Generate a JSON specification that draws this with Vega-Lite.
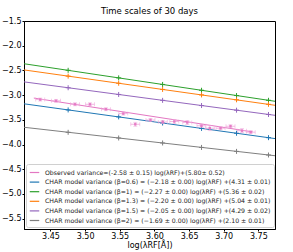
{
  "$schema": "https://vega.github.io/schema/vega-lite/v6.json",
  "width": 251,
  "height": 208,
  "autosize": {"type": "none"},
  "padding": {"left": 24, "top": 21, "right": 18, "bottom": 23},
  "title": {"text": "Time scales of 30 days", "fontSize": 8.5, "font": "DejaVu Sans", "fontWeight": "normal", "offset": 2, "color": "black"},
  "config": {
    "font": "DejaVu Sans",
    "view": {"stroke": "black", "strokeWidth": 1},
    "axis": {"grid": false, "domainColor": "black", "tickColor": "black", "labelColor": "black", "titleColor": "black", "labelFont": "DejaVu Sans", "titleFont": "DejaVu Sans", "labelFontSize": 8, "titleFontSize": 8, "titleFontWeight": "normal", "tickSize": 2, "labelPadding": 1}
  },
  "datasets": {
    "lines": [
      {"series": "Observed variance=(-2.58 ± 0.15) log(λRF)+(5.80± 0.52)", "x": 3.426, "y": -3.06},
      {"series": "Observed variance=(-2.58 ± 0.15) log(λRF)+(5.80± 0.52)", "x": 3.742, "y": -3.745},
      {"series": "CHAR model variance (β=0.6) = (−2.18 ± 0.00) log(λRF) +(4.31 ± 0.01)", "x": 3.4118, "y": -3.176},
      {"series": "CHAR model variance (β=0.6) = (−2.18 ± 0.00) log(λRF) +(4.31 ± 0.01)", "x": 3.774, "y": -3.88},
      {"series": "CHAR model variance (β=1) = (−2.27 ± 0.00) log(λRF) +(5.36 ± 0.02)", "x": 3.4118, "y": -2.365},
      {"series": "CHAR model variance (β=1) = (−2.27 ± 0.00) log(λRF) +(5.36 ± 0.02)", "x": 3.774, "y": -3.125},
      {"series": "CHAR model variance (β=1.3) = (−2.20 ± 0.00) log(λRF) +(5.04 ± 0.01)", "x": 3.4118, "y": -2.49},
      {"series": "CHAR model variance (β=1.3) = (−2.20 ± 0.00) log(λRF) +(5.04 ± 0.01)", "x": 3.774, "y": -3.206},
      {"series": "CHAR model variance (β=1.5) = (−2.05 ± 0.00) log(λRF) +(4.29 ± 0.02)", "x": 3.4118, "y": -2.732},
      {"series": "CHAR model variance (β=1.5) = (−2.05 ± 0.00) log(λRF) +(4.29 ± 0.02)", "x": 3.774, "y": -3.409},
      {"series": "CHAR model variance (β=2) = (−1.69 ± 0.00) log(λRF) +(2.10 ± 0.01)", "x": 3.4118, "y": -3.651},
      {"series": "CHAR model variance (β=2) = (−1.69 ± 0.00) log(λRF) +(2.10 ± 0.01)", "x": 3.774, "y": -4.227}
    ],
    "markers": [
      {"beta": "0.6", "x": 3.4755, "y": -3.300}, {"beta": "0.6", "x": 3.5484, "y": -3.441}, {"beta": "0.6", "x": 3.6118, "y": -3.565}, {"beta": "0.6", "x": 3.668, "y": -3.674}, {"beta": "0.6", "x": 3.7185, "y": -3.772}, {"beta": "0.6", "x": 3.7646, "y": -3.861},
      {"beta": "1", "x": 3.4755, "y": -2.498}, {"beta": "1", "x": 3.5484, "y": -2.651}, {"beta": "1", "x": 3.6118, "y": -2.784}, {"beta": "1", "x": 3.668, "y": -2.902}, {"beta": "1", "x": 3.7185, "y": -3.009}, {"beta": "1", "x": 3.7646, "y": -3.105},
      {"beta": "1.3", "x": 3.4755, "y": -2.616}, {"beta": "1.3", "x": 3.5484, "y": -2.760}, {"beta": "1.3", "x": 3.6118, "y": -2.885}, {"beta": "1.3", "x": 3.668, "y": -2.996}, {"beta": "1.3", "x": 3.7185, "y": -3.095}, {"beta": "1.3", "x": 3.7646, "y": -3.186},
      {"beta": "1.5", "x": 3.4755, "y": -2.851}, {"beta": "1.5", "x": 3.5484, "y": -2.987}, {"beta": "1.5", "x": 3.6118, "y": -3.106}, {"beta": "1.5", "x": 3.668, "y": -3.211}, {"beta": "1.5", "x": 3.7185, "y": -3.305}, {"beta": "1.5", "x": 3.7646, "y": -3.392},
      {"beta": "2", "x": 3.4755, "y": -3.753}, {"beta": "2", "x": 3.5484, "y": -3.868}, {"beta": "2", "x": 3.6118, "y": -3.969}, {"beta": "2", "x": 3.668, "y": -4.059}, {"beta": "2", "x": 3.7185, "y": -4.139}, {"beta": "2", "x": 3.7646, "y": -4.212}
    ],
    "obs": [
      {"x": 3.4352, "y": -3.09, "xlo": 3.4287, "xhi": 3.4417, "ylo": -3.12, "yhi": -3.06},
      {"x": 3.4580, "y": -3.116, "xlo": 3.4515, "xhi": 3.4645, "ylo": -3.146, "yhi": -3.086},
      {"x": 3.4854, "y": -3.186, "xlo": 3.4789, "xhi": 3.4919, "ylo": -3.216, "yhi": -3.156},
      {"x": 3.5070, "y": -3.186, "xlo": 3.5005, "xhi": 3.5135, "ylo": -3.216, "yhi": -3.156},
      {"x": 3.5300, "y": -3.286, "xlo": 3.5235, "xhi": 3.5365, "ylo": -3.316, "yhi": -3.256},
      {"x": 3.5551, "y": -3.374, "xlo": 3.5486, "xhi": 3.5616, "ylo": -3.404, "yhi": -3.344},
      {"x": 3.5724, "y": -3.59, "xlo": 3.5659, "xhi": 3.5789, "ylo": -3.63, "yhi": -3.55},
      {"x": 3.5943, "y": -3.504, "xlo": 3.5878, "xhi": 3.6008, "ylo": -3.534, "yhi": -3.474},
      {"x": 3.6120, "y": -3.544, "xlo": 3.6055, "xhi": 3.6185, "ylo": -3.574, "yhi": -3.514},
      {"x": 3.6287, "y": -3.534, "xlo": 3.6222, "xhi": 3.6352, "ylo": -3.574, "yhi": -3.494},
      {"x": 3.6474, "y": -3.554, "xlo": 3.6409, "xhi": 3.6539, "ylo": -3.594, "yhi": -3.514},
      {"x": 3.6679, "y": -3.62, "xlo": 3.6614, "xhi": 3.6744, "ylo": -3.65, "yhi": -3.59},
      {"x": 3.6799, "y": -3.67, "xlo": 3.6734, "xhi": 3.6864, "ylo": -3.72, "yhi": -3.62},
      {"x": 3.6954, "y": -3.67, "xlo": 3.6889, "xhi": 3.7019, "ylo": -3.70, "yhi": -3.64},
      {"x": 3.7098, "y": -3.63, "xlo": 3.7033, "xhi": 3.7163, "ylo": -3.66, "yhi": -3.60},
      {"x": 3.7264, "y": -3.72, "xlo": 3.7199, "xhi": 3.7329, "ylo": -3.76, "yhi": -3.68},
      {"x": 3.7389, "y": -3.75, "xlo": 3.7324, "xhi": 3.7454, "ylo": -3.78, "yhi": -3.72}
    ]
  },
  "encoding": {
    "x": {"type": "quantitative", "scale": {"domain": [3.4118, 3.774], "nice": false, "zero": false}, "axis": {"values": [3.45, 3.5, 3.55, 3.6, 3.65, 3.7, 3.75], "format": ".2f", "title": "log(λRF[Å])", "titlePadding": 1}},
    "y": {"type": "quantitative", "scale": {"domain": [-5.71, -1.5], "nice": false, "zero": false}, "axis": {"values": [-5.5, -5, -4.5, -4, -3.5, -3, -2.5, -2, -1.5], "format": ".1f", "title": null}}
  },
  "layer": [
    {
      "data": {"name": "lines"},
      "mark": {"type": "line", "strokeWidth": 1, "clip": true},
      "encoding": {
        "x": {"field": "x", "type": "quantitative"},
        "y": {"field": "y", "type": "quantitative"},
        "color": {
          "field": "series", "type": "nominal",
          "scale": {
            "domain": [
              "Observed variance=(-2.58 ± 0.15) log(λRF)+(5.80± 0.52)",
              "CHAR model variance (β=0.6) = (−2.18 ± 0.00) log(λRF) +(4.31 ± 0.01)",
              "CHAR model variance (β=1) = (−2.27 ± 0.00) log(λRF) +(5.36 ± 0.02)",
              "CHAR model variance (β=1.3) = (−2.20 ± 0.00) log(λRF) +(5.04 ± 0.01)",
              "CHAR model variance (β=1.5) = (−2.05 ± 0.00) log(λRF) +(4.29 ± 0.02)",
              "CHAR model variance (β=2) = (−1.69 ± 0.00) log(λRF) +(2.10 ± 0.01)"
            ],
            "range": ["#e377c2", "#1f77b4", "#2ca02c", "#ff7f0e", "#9467bd", "#7f7f7f"]
          },
          "legend": {
            "title": null, "orient": "bottom-left", "offset": 2,
            "fillColor": "white", "strokeColor": "#d0d0d0", "cornerRadius": 2, "padding": 3,
            "labelFontSize": 6.2, "labelColor": "#222222", "labelLimit": 400, "labelFont": "DejaVu Sans",
            "symbolType": "stroke", "symbolSize": 90, "symbolStrokeWidth": 1.2, "rowPadding": 0.6, "labelOffset": 5
          }
        }
      }
    },
    {
      "data": {"name": "markers"},
      "mark": {"type": "point", "shape": "M-1,0L1,0M0,-1L0,1", "filled": false, "size": 25, "strokeWidth": 1, "opacity": 1},
      "encoding": {
        "x": {"field": "x", "type": "quantitative"},
        "y": {"field": "y", "type": "quantitative"},
        "stroke": {"field": "beta", "type": "nominal", "scale": {"domain": ["0.6", "1", "1.3", "1.5", "2"], "range": ["#1f77b4", "#2ca02c", "#ff7f0e", "#9467bd", "#7f7f7f"]}, "legend": null}
      }
    },
    {
      "data": {"name": "obs"},
      "mark": {"type": "rule", "color": "#f0a6dc", "strokeWidth": 0.8},
      "encoding": {
        "x": {"field": "xlo", "type": "quantitative"},
        "x2": {"field": "xhi"},
        "y": {"field": "y", "type": "quantitative"}
      }
    },
    {
      "data": {"name": "obs"},
      "mark": {"type": "rule", "color": "#f0a6dc", "strokeWidth": 0.8},
      "encoding": {
        "x": {"field": "x", "type": "quantitative"},
        "y": {"field": "ylo", "type": "quantitative"},
        "y2": {"field": "yhi"}
      }
    },
    {
      "data": {"name": "obs"},
      "mark": {"type": "tick", "color": "#f0a6dc", "orient": "vertical", "size": 4, "thickness": 0.8},
      "encoding": {
        "x": {"field": "xlo", "type": "quantitative"},
        "y": {"field": "y", "type": "quantitative"}
      }
    },
    {
      "data": {"name": "obs"},
      "mark": {"type": "tick", "color": "#f0a6dc", "orient": "vertical", "size": 4, "thickness": 0.8},
      "encoding": {
        "x": {"field": "xhi", "type": "quantitative"},
        "y": {"field": "y", "type": "quantitative"}
      }
    },
    {
      "data": {"name": "obs"},
      "mark": {"type": "tick", "color": "#f0a6dc", "orient": "horizontal", "size": 4, "thickness": 0.8},
      "encoding": {
        "x": {"field": "x", "type": "quantitative"},
        "y": {"field": "yhi", "type": "quantitative"}
      }
    },
    {
      "data": {"name": "obs"},
      "mark": {"type": "tick", "color": "#f0a6dc", "orient": "horizontal", "size": 4, "thickness": 0.8},
      "encoding": {
        "x": {"field": "x", "type": "quantitative"},
        "y": {"field": "ylo", "type": "quantitative"}
      }
    },
    {
      "data": {"name": "obs"},
      "mark": {"type": "point", "shape": "square", "filled": true, "size": 6, "color": "#e377c2", "opacity": 0.9},
      "encoding": {
        "x": {"field": "x", "type": "quantitative"},
        "y": {"field": "y", "type": "quantitative"}
      }
    }
  ],
  "resolve": {"scale": {"stroke": "independent"}}
}
